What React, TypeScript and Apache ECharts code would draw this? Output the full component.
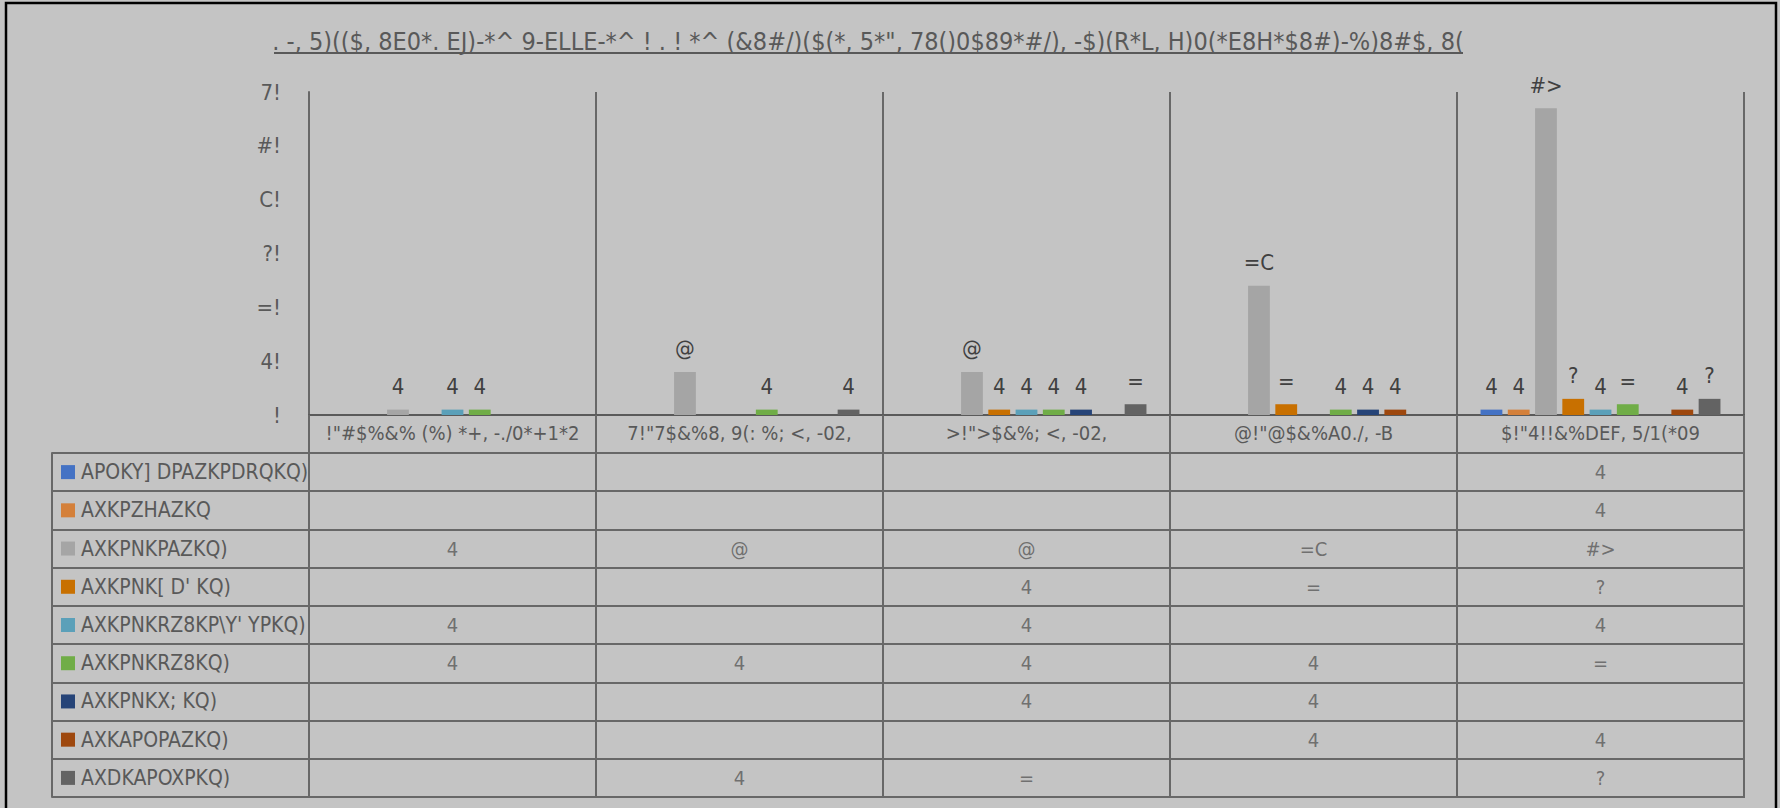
import React, { useEffect, useRef } from "react";
import * as echarts from "echarts";

const TITLE = '. -, 5)(($, 8E0*. EJ)-*^ 9-ELLE-*^ ! . ! *^ (&8#/)($(*, 5*", 78()0$89*#/), -$)(R*L, H)0(*E8H*$8#)-%)8#$, 8(';

const categories = [
  '!"#$%&% (%) *+, -./0*+1*2',
  '7!"7$&%8, 9(: %; <, -02,',
  '>!">$&%; <, -02,',
  '@!"@$&%A0./, -B',
  '$!"4!!&%DEF, 5/1(*09',
];

const seriesNames = [
  "APOKY] DPAZKPDRQKQ)",
  "AXKPZHAZKQ",
  "AXKPNKPAZKQ)",
  "AXKPNK[ D' KQ)",
  "AXKPNKRZ8KP\\Y' YPKQ)",
  "AXKPNKRZ8KQ)",
  "AXKPNKX; KQ)",
  "AXKAPOPAZKQ)",
  "AXDKAPOXPKQ)",
];

const seriesColors = [
  "#4472C4",
  "#D4803A",
  "#A5A5A5",
  "#C87000",
  "#5BA0B9",
  "#70AD47",
  "#264478",
  "#9E480E",
  "#636363",
];

const s1 = [null, null, null, null, 1];
const s2 = [null, null, null, null, 1];
const s3 = [1, 8, 8, 24, 57];
const s4 = [null, null, 1, 2, 3];
const s5 = [1, null, 1, null, 1];
const s6 = [1, 1, 1, 1, 2];
const s7 = [null, null, 1, 1, null];
const s8 = [null, null, null, 1, 1];
const s9 = [null, 1, 2, null, 3];
const seriesValues = [s1, s2, s3, s4, s5, s6, s7, s8, s9];

const yTickLabels = ["!", "4!", "=!", "?!", "C!", "#!", "7!"];
// glyphs used by the source chart for digits 0..8
const digitGlyphs = ["!", "4", "=", "?", "C", "#", "7", ">", "@"];

const FONT = "'Liberation Sans Narrow', 'DejaVu Sans Condensed', 'Roboto Condensed', 'Liberation Sans', sans-serif";
const TEXT = "#595959";
const LINE = "#686868";

function encode(v: number | null | undefined): string {
  if (v === null || v === undefined) return "";
  return String(v)
    .split("")
    .map((d) => digitGlyphs[Number(d)] ?? d)
    .join("");
}

export default function App() {
  const ref = useRef<HTMLDivElement>(null);
  useEffect(() => {
    if (!ref.current) return;
    const chart = echarts.init(ref.current, undefined, { renderer: "svg" });

    const rich: Record<string, any> = {
      t: { fontSize: 21, color: TEXT, fontFamily: FONT, padding: [0, 0, 0, 6] },
    };
    seriesColors.forEach((c, i) => {
      rich["k" + i] = { width: 14, height: 14, backgroundColor: c };
    });

    const tableData: any[] = [];
    seriesValues.forEach((vals, i) => {
      vals.forEach((v, j) => {
        if (v !== null) tableData.push([j, i, v]);
      });
    });

    const barSeries = seriesValues.map((vals, i) => ({
      type: "bar",
      name: seriesNames[i],
      xAxisIndex: 0,
      yAxisIndex: 0,
      data: vals,
      barGap: "25%",
      barCategoryGap: "16.4%",
      itemStyle: { color: seriesColors[i] },
      label: {
        show: true,
        position: "top",
        distance: 12,
        fontSize: 22,
        fontFamily: FONT,
        color: "#404040",
        formatter: (p: any) => encode(p.value),
      },
    }));

    chart.setOption({
      animation: false,
      backgroundColor: "#C4C4C4",
      grid: [
        { left: 309, top: 92, width: 1435, height: 323 },
        { left: 309, top: 453, width: 1435, height: 344, show: true, borderColor: LINE, borderWidth: 2, backgroundColor: "transparent" },
      ],
      xAxis: [
        {
          type: "category",
          gridIndex: 0,
          data: categories,
          axisLine: { show: true, lineStyle: { color: "#5A5A5A", width: 2 } },
          axisTick: { show: true, length: 38, alignWithLabel: false, lineStyle: { color: LINE, width: 2 } },
          splitLine: { show: true, lineStyle: { color: LINE, width: 2 } },
          axisLabel: { fontSize: 20, color: TEXT, fontFamily: FONT, margin: 8, interval: 0 },
        },
        {
          type: "category",
          gridIndex: 1,
          data: categories,
          axisLine: { show: false },
          axisTick: { show: false },
          axisLabel: { show: false },
          splitLine: { show: true, lineStyle: { color: LINE, width: 2 } },
        },
      ],
      yAxis: [
        {
          type: "value",
          gridIndex: 0,
          min: 0,
          max: 60,
          interval: 10,
          axisLine: { show: true, lineStyle: { color: LINE, width: 2 } },
          axisTick: { show: false },
          splitLine: { show: false },
          axisLabel: {
            fontSize: 22,
            color: TEXT,
            fontFamily: FONT,
            margin: 28,
            formatter: (v: number) => yTickLabels[Math.round(v / 10)] ?? "",
          },
        },
        {
          type: "category",
          gridIndex: 1,
          data: seriesNames,
          inverse: true,
          axisLine: { show: true, lineStyle: { color: LINE, width: 2 } },
          axisTick: { show: true, length: 257, alignWithLabel: false, lineStyle: { color: LINE, width: 2 } },
          splitLine: { show: true, lineStyle: { color: LINE, width: 2 } },
          axisLabel: {
            align: "left",
            margin: 248,
            interval: 0,
            formatter: (v: string) => {
              const i = seriesNames.indexOf(v);
              return "{k" + i + "|}{t|" + v + "}";
            },
            rich,
          },
        },
        {
          type: "category",
          gridIndex: 1,
          data: seriesNames,
          inverse: true,
          position: "left",
          offset: 257,
          axisLine: { show: true, lineStyle: { color: LINE, width: 2 } },
          axisTick: { show: false },
          axisLabel: { show: false },
          splitLine: { show: false },
        },
      ],
      series: [
        ...barSeries,
        {
          type: "scatter",
          xAxisIndex: 1,
          yAxisIndex: 1,
          data: tableData,
          symbolSize: 1,
          itemStyle: { color: "rgba(0,0,0,0)" },
          silent: true,
          label: {
            show: true,
            position: "inside",
            fontSize: 20,
            fontFamily: FONT,
            color: TEXT,
            formatter: (p: any) => encode(p.value[2]),
          },
        },
      ],
      graphic: [
        {
          type: "rect",
          shape: { x: 6, y: 3, width: 1770, height: 820 },
          style: { fill: "none", stroke: "#000", lineWidth: 2.5 },
          silent: true,
        },
        {
          type: "text",
          x: 868,
          y: 41,
          style: {
            text: TITLE,
            fontSize: 25,
            fontFamily: FONT,
            fill: TEXT,
            textAlign: "center",
            textVerticalAlign: "middle",
          },
        },
        {
          type: "line",
          shape: { x1: 274, y1: 53, x2: 1463, y2: 53 },
          style: { stroke: TEXT, lineWidth: 2 },
        },
      ],
    });
    return () => chart.dispose();
  }, []);
  return <div ref={ref} style={{ position: "absolute", left: 0, top: 0, width: 1780, height: 808 }} />;
}
